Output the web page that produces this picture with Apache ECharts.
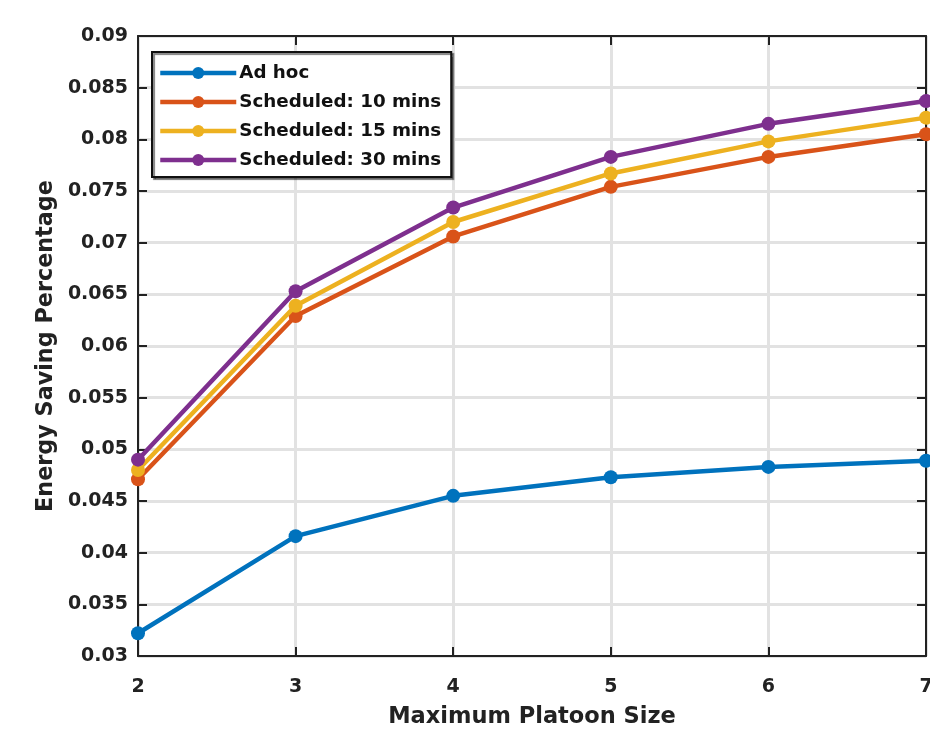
<!DOCTYPE html>
<html><head><meta charset="utf-8">
<script src="https://cdn.jsdelivr.net/npm/echarts@6/dist/echarts.min.js"></script>
<style>html,body{margin:0;padding:0;background:#fff}#c{width:930px;height:733px}</style>
</head><body><div id="c"></div>
<script>
const categories = [2, 3, 4, 5, 6, 7];
const adHoc = [0.0322, 0.0416, 0.0455, 0.0473, 0.0483, 0.0489];
const sched10 = [0.0471, 0.0629, 0.0706, 0.0754, 0.0783, 0.0805];
const sched15 = [0.0480, 0.0639, 0.0720, 0.0767, 0.0798, 0.0821];
const sched30 = [0.0490, 0.0653, 0.0734, 0.0783, 0.0815, 0.0837];
const seriesNames = ['Ad hoc', 'Scheduled: 10 mins', 'Scheduled: 15 mins', 'Scheduled: 30 mins'];
const colors = ['#0072BD', '#D95319', '#EDB120', '#7E2F8E'];
const yTicks = ['0.03','0.035','0.04','0.045','0.05','0.055','0.06','0.065','0.07','0.075','0.08','0.085','0.09'];

const FONT = '"DejaVu Sans", "Liberation Sans", Arial, sans-serif';
const chart = echarts.init(document.getElementById('c'));
const dataSets = [adHoc, sched10, sched15, sched30];
const series = dataSets.map((d, i) => ({
  name: seriesNames[i], type: 'line',
  data: categories.map((x, j) => [x, d[j]]),
  symbol: 'circle', symbolSize: 14,
  lineStyle: {width: 4.5, color: colors[i]},
  itemStyle: {color: colors[i]},
  z: 3 + i
}));
chart.setOption({
  animation: false,
  backgroundColor: '#fff',
  grid: {left: 138, right: 4, top: 36, bottom: 77, outerBoundsMode: 'none', containLabel: false},
  legend: {
    left: 152, top: 52, orient: 'vertical', data: seriesNames,
    itemWidth: 76, itemHeight: 15, itemGap: 11,
    padding: [12, 10, 8, 6],
    backgroundColor: '#fff', borderColor: '#111', borderWidth: 2,
    shadowColor: 'rgba(0,0,0,0.5)', shadowOffsetX: 2, shadowOffsetY: 2, shadowBlur: 1,
    lineStyle: {width: 4.5},
    textStyle: {fontFamily: FONT, fontWeight: 'bold', fontSize: 18.3, color: '#111', padding: [0, 0, 0, -2]}
  },
  xAxis: [{
    type: 'value', min: 2, max: 7, interval: 1,
    name: 'Maximum Platoon Size', nameLocation: 'middle', nameGap: 50,
    nameTextStyle: {fontFamily: FONT, fontWeight: 'bold', fontSize: 22.5, color: '#222'},
    axisLine: {show: true, lineStyle: {color: '#222', width: 2}},
    axisTick: {show: true, inside: true, length: 9, lineStyle: {color: '#222', width: 2}},
    axisLabel: {fontFamily: FONT, fontWeight: 'bold', fontSize: 19, color: '#222', margin: 22},
    splitLine: {show: true, lineStyle: {color: '#e2e2e2', width: 3}}
  }, {
    type: 'value', min: 2, max: 7, interval: 1, position: 'top',
    axisLine: {show: true, lineStyle: {color: '#222', width: 2}},
    axisTick: {show: true, inside: true, length: 9, lineStyle: {color: '#222', width: 2}},
    axisLabel: {show: false}, splitLine: {show: false}
  }],
  yAxis: [{
    type: 'value', min: 0.03, max: 0.09, interval: 0.005,
    name: 'Energy Saving Percentage', nameLocation: 'middle', nameGap: 80,
    nameTextStyle: {fontFamily: FONT, fontWeight: 'bold', fontSize: 22.3, color: '#222'},
    axisLine: {show: true, lineStyle: {color: '#222', width: 2}},
    axisTick: {show: true, inside: true, length: 9, lineStyle: {color: '#222', width: 2}},
    axisLabel: {fontFamily: FONT, fontWeight: 'bold', fontSize: 19, color: '#222', margin: 10,
      formatter: v => yTicks[Math.round((v - 0.03) / 0.005)]},
    splitLine: {show: true, lineStyle: {color: '#e2e2e2', width: 3}}
  }, {
    type: 'value', min: 0.03, max: 0.09, interval: 0.005, position: 'right',
    axisLine: {show: true, lineStyle: {color: '#222', width: 2}},
    axisTick: {show: true, inside: true, length: 9, lineStyle: {color: '#222', width: 2}},
    axisLabel: {show: false}, splitLine: {show: false}
  }],
  series: series
});
</script></body></html>
